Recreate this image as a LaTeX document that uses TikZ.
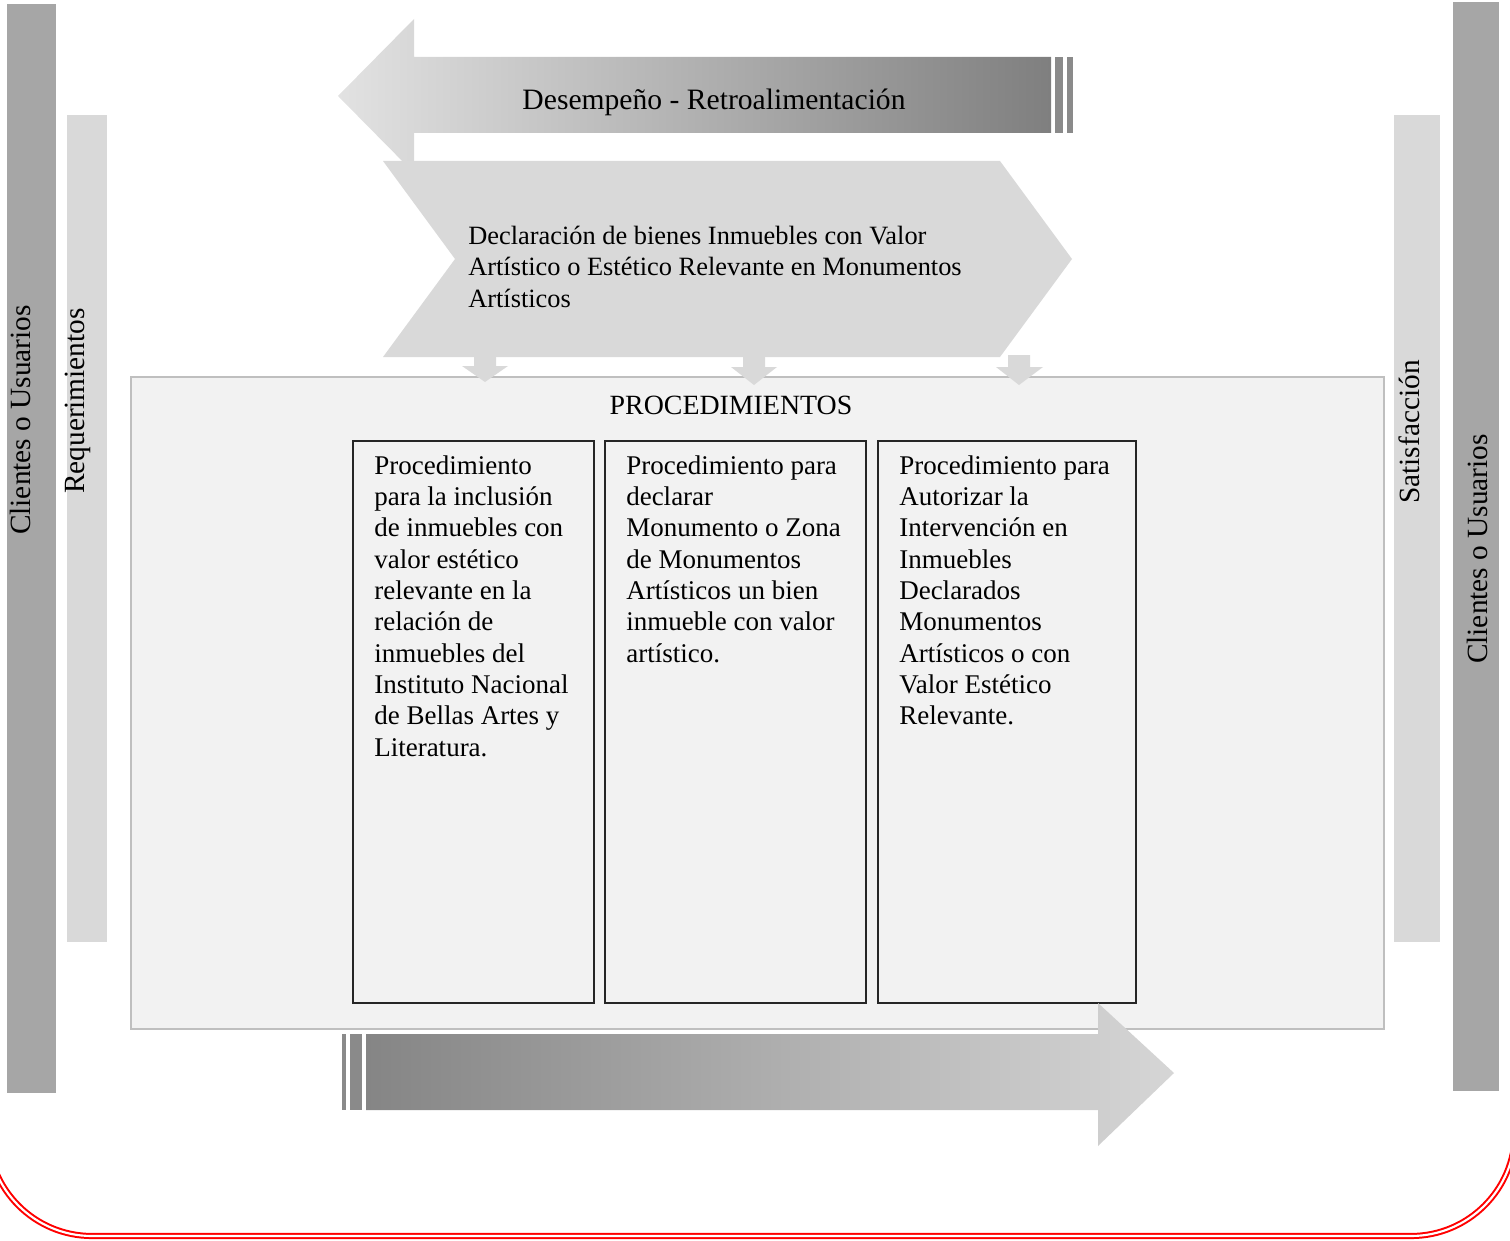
\documentclass[tikz,border=0pt]{standalone}
\usepackage{fontspec}
\setmainfont{Liberation Serif}
\definecolor{bardark}{HTML}{A6A6A6}
\definecolor{barlight}{HTML}{D9D9D9}
\definecolor{chev}{HTML}{D9D9D9}
\definecolor{boxfill}{HTML}{F2F2F2}
\definecolor{boxline}{HTML}{BFBFBF}
\definecolor{arrlight}{HTML}{E2E2E2}
\definecolor{arrdark}{HTML}{7F7F7F}
\definecolor{barrdark}{HTML}{858585}
\definecolor{barrlight}{HTML}{D6D6D6}
\definecolor{stripe}{HTML}{8A8A8A}
\definecolor{framered}{HTML}{FF0000}
\begin{document}
\begin{tikzpicture}[x=0.75pt,y=-0.75pt,
  every node/.style={font=\fontsize{20.25}{23.5}\selectfont, inner sep=0pt, text=black},
  sidelabel/.style={rotate=90, font=\fontsize{22}{26}\selectfont},
  proctext/.style={anchor=north west, align=left},
  procbox/.style={draw=black!85, line width=0.8pt, fill=boxfill},
  downarrow/.style={fill=chev}
]
\useasboundingbox (0,0) rectangle (1510,1241);

% side bars
\fill[bardark] (7,4) rectangle (56,1093);
\fill[barlight] (67,115) rectangle (107,942);
\fill[barlight] (1394,115) rectangle (1440,942);
\fill[bardark] (1453,2) rectangle (1499,1091);
\node[sidelabel] (cu1) at (20,420) {Clientes o Usuarios};
\node[sidelabel] (req) at (78,401) {Requerimientos};
\node[sidelabel] (sat) at (1409,432) {Satisfacción};
\node[sidelabel] (cu2) at (1477,549) {Clientes o Usuarios};

% top feedback arrow
\shade[left color=arrlight, right color=arrdark]
  (338,96) -- (414,19) -- (414,57) -- (1051,57) -- (1051,133) -- (414,133) -- (414,173) -- cycle;
\fill[stripe] (1055,57) rectangle (1063,133);
\fill[stripe] (1067,57) rectangle (1073,133);
\node[font=\fontsize{22.2}{26}\selectfont] (des) at (714,102) {Desempeño - Retroalimentación};

% chevron
\fill[chev] (383,161) -- (1000,161) -- (1072,259) -- (1000,357) -- (383,357) -- (455,259) -- cycle;
\node[proctext, font=\fontsize{19.8}{23.5}\selectfont] (decl) at (468,226) {Declaración de bienes Inmuebles con Valor\\Artístico o Estético Relevante en Monumentos\\Artísticos};

% procedures box
\draw[boxline, fill=boxfill, line width=0.8pt] (131,377) rectangle (1384,1029);
\node[font=\fontsize{20.9}{24}\selectfont] (proc) at (731,405) {PROCEDIMIENTOS};

% small down arrows
\fill[downarrow] (474,355) -- (496,355) -- (496,366) -- (508,366) -- (485,382) -- (462,366) -- (474,366) -- cycle;
\fill[downarrow] (743,355) -- (765,355) -- (765,367) -- (777,367) -- (754,385) -- (731,367) -- (743,367) -- cycle;
\fill[downarrow] (1008,355) -- (1030,355) -- (1030,367) -- (1043,367) -- (1019,385) -- (996,367) -- (1008,367) -- cycle;

% inner procedure boxes
\draw[procbox] (353,441) rectangle (594,1003);
\draw[procbox] (605,441) rectangle (866,1003);
\draw[procbox] (878,441) rectangle (1136,1003);
\node[proctext] (p1) at (374,455) {Procedimiento\\para la inclusión\\de inmuebles con\\valor estético\\relevante en la\\relación de\\inmuebles del\\Instituto Nacional\\de Bellas Artes y\\Literatura.};
\node[proctext] (p2) at (626,455) {Procedimiento para\\declarar\\Monumento o Zona\\de Monumentos\\Artísticos un bien\\inmueble con valor\\artístico.};
\node[proctext] (p3) at (899,455) {Procedimiento para\\Autorizar la\\Intervención en\\Inmuebles\\Declarados\\Monumentos\\Artísticos o con\\Valor Estético\\Relevante.};

% bottom arrow
\shade[left color=barrdark, right color=barrlight]
  (366,1034) -- (1098,1034) -- (1098,1003) -- (1174,1073) -- (1098,1146) -- (1098,1110) -- (366,1110) -- cycle;
\fill[stripe] (342,1034) rectangle (346,1110);
\fill[stripe] (350,1034) rectangle (362,1110);

% red frame
\draw[framered, line width=1.5pt, double=white, double distance=1.6pt, rounded corners=78pt]
  (-12,900) -- (-12,1236) -- (1515,1236) -- (1515,900);
\end{tikzpicture}
\end{document}
